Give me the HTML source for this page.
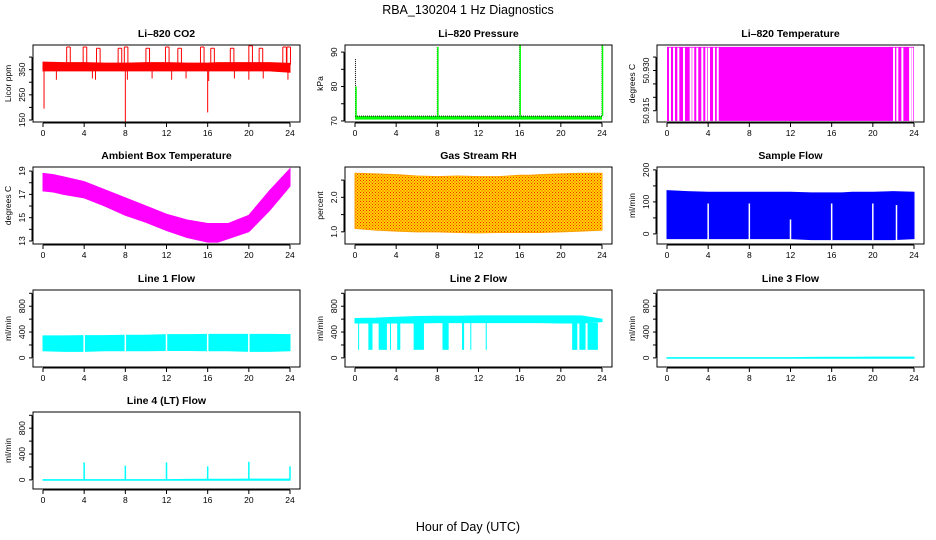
<!DOCTYPE html>
<html><head><meta charset="utf-8"><style>
html,body{margin:0;padding:0;background:#fff}
svg{display:block;font-family:"Liberation Sans",sans-serif}
</style></head><body>
<svg id="chart" width="936" height="540" viewBox="0 0 936 540">
<defs>
<pattern id="rhpat" width="3" height="3" patternUnits="userSpaceOnUse">
<rect width="3" height="3" fill="#ffd700"/><rect x="0" y="0" width="1" height="1" fill="#ff2000"/><rect x="1.5" y="1.5" width="1" height="1" fill="#ff2000"/>
</pattern>
</defs>
<text x="468" y="14" text-anchor="middle" font-size="12.5">RBA_130204  1 Hz Diagnostics</text>
<text x="468" y="531" text-anchor="middle" font-size="12.5">Hour of Day (UTC)</text>
</svg>
<script>
// ---- data ----
const xTicks=[0,4,8,12,16,20,24];
const envHours=[0,2,4,6,8,10,12,14,16,17,18,20,22,24];
// CO2
const co2Upper=[380,378,378,376,376,378,378,376,376,378,378,378,378,375];
const co2Lower=[345,345,345,345,345,345,345,345,345,345,345,345,345,340];
const co2SpikeHours=[2.3,3.9,5.2,7.3,7.9,10.0,11.9,13.1,15.3,16.3,18.2,20.0,21.0,23.3,23.7];
const co2SpikeValues=[440,440,435,435,440,435,440,435,440,435,435,445,435,440,440];
const co2DipHours=[0.1,8.0,16.0,1.3,4.8,5.1,8.2,10.6,12.5,13.9,16.1,18.6,20.0,21.4,23.8];
const co2DipValues=[195,142,180,310,315,310,310,315,310,315,305,315,310,315,310];
// Pressure
const presBaseLow=70.4, presBaseHigh=71.4;
const presSpikeHours=[0.05,8.0,16.0,24.0];
const presSpikeValues=[80,91.5,92,92];
const presBlackValues=[88,91.5,92,92];
// Li-820 temperature
const tempTop=50.9388, tempBottom=50.9112;
const tempGapHours=[0.29,0.68,1.1,1.65,2.3,2.55,2.94,3.43,3.82,4.08,4.57,4.93,22.06,22.38,22.87,23.62,23.84];
// Ambient box temperature
const ambHours=[0,1,2,4,6,8,10,12,14,16,17,18,20,22,24];
const ambUpper=[18.8,18.7,18.5,18.1,17.4,16.7,16.0,15.3,14.8,14.5,14.5,14.5,15.2,17.3,19.2];
const ambLower=[17.3,17.2,17.0,16.7,16.0,15.2,14.6,13.9,13.3,12.9,12.9,13.2,13.8,15.6,17.7];
// Gas stream RH
const rhUpper=[2.7,2.68,2.66,2.62,2.6,2.62,2.6,2.6,2.64,2.64,2.66,2.68,2.7,2.7];
const rhLower=[1.1,1.05,1.02,1.0,1.0,0.98,0.97,0.98,0.98,0.98,0.98,1.0,1.02,1.05];
// Sample flow
const sfUpper=[135,132,130,130,130,130,130,128,128,128,130,130,132,130];
const sfLower=[-15,-15,-15,-15,-15,-15,-15,-18,-18,-18,-18,-18,-18,-15];
const sfGapHours=[4.0,8.0,12.0,16.0,20.0,22.3];
const sfGapTops=[95,95,45,95,95,90];
// Line 1 flow
const l1Upper=[340,340,345,345,350,350,360,360,365,365,365,365,365,360];
const l1Lower=[110,100,100,110,110,110,115,115,110,110,110,100,100,110];
const l1GapHours=[4.0,8.0,12.0,16.0,20.0];
// Line 2 flow
const l2Upper=[610,615,630,640,645,645,650,650,650,650,650,650,650,600];
const l2Lower=[540,540,540,540,545,545,545,545,545,545,545,540,540,560];
const l2DropStarts=[0.3,1.3,2.3,3.4,4.1,5.7,8.5,10.4,11.2,12.7,21.1,21.8,22.6];
const l2DropEnds=[0.4,1.7,3.1,3.5,4.4,6.7,9.1,10.6,11.3,12.8,21.6,22.4,23.6];
const l2DropValue=125;
// Line 3 / Line 4 flow
const l3Upper=[5,5,5,5,5,5,5,8,10,10,10,12,12,12];
const l3Lower=[-5,-5,-5,-5,-5,-5,-5,-5,-5,-5,-5,-5,-5,-5];
const l4SpikeHours=[4.0,8.0,12.0,16.0,20.0,24.0];
const l4SpikeValues=[270,220,270,210,280,210];

// ---- layout ----
const NS='http://www.w3.org/2000/svg';
const svg=document.getElementById('chart');
const cols=[33,345,657], rows=[45,167,290,412], W=267, H=77;
function mk(tag,attrs,parent){const e=document.createElementNS(NS,tag);for(const k in attrs)e.setAttribute(k,attrs[k]);(parent||svg).appendChild(e);return e;}

function panel(c,r,name,title,ylab,d0,d1,yt,yl){
  const L=cols[c],T=rows[r];
  const g=mk('g',{});
  
  
  const sx=h=>L+10+h*247/24;
  const sy=v=>T+(d1-v)/(d1-d0)*H;
  const plot=mk('g',{},g);
  
  
  const t=mk('text',{x:L+W/2,y:T-8,'text-anchor':'middle','font-size':10.5,'font-weight':'bold'},g);
  t.textContent=title;
  
  
  const box=mk('rect',{x:L,y:T,width:W,height:H,fill:'none',stroke:'#000','stroke-width':1},g);
  
  
  const xa=mk('g',{},g);
  
  
  mk('line',{x1:sx(0),x2:sx(24),y1:T+H+1,y2:T+H+1,stroke:'#000'},xa);
  xTicks.forEach(h=>{mk('line',{x1:sx(h),x2:sx(h),y1:T+H+1,y2:T+H+5,stroke:'#000'},xa);
    const tx=mk('text',{x:sx(h),y:T+H+14,'text-anchor':'middle','font-size':8.5},xa);tx.textContent=h;});
  const ya=mk('g',{},g);
  
  
  mk('line',{x1:L-1,x2:L-1,y1:sy(yt[0]),y2:sy(yt[yt.length-1]),stroke:'#000'},ya);
  yt.forEach(v=>mk('line',{x1:L-4,x2:L-1,y1:sy(v),y2:sy(v),stroke:'#000'},ya));
  yl.forEach(v=>{const y=sy(v);const tx=mk('text',{x:L-8,y:y,'text-anchor':'middle','font-size':8.5,transform:`rotate(-90 ${L-8} ${y})`},ya);tx.textContent=(name==='li820-temperature')?v.toFixed(3):(name==='gas-stream-rh'?v.toFixed(1):v);});
  const yc=T+H/2;
  const yt2=mk('text',{x:L-22,y:yc,'text-anchor':'middle','font-size':8.5,transform:`rotate(-90 ${L-22} ${yc})`},g);
  yt2.textContent=ylab;
  
  
  return {sx,sy,plot,T,H};
}
function band(p,hours,up,lo,fill){
  const pts=hours.map((h,i)=>p.sx(h)+','+p.sy(up[i])).concat(hours.map((h,i)=>p.sx(h)+','+p.sy(lo[i])).reverse());
  return mk('polygon',{points:pts.join(' '),fill:fill,stroke:fill,'stroke-width':1},p.plot);
}
function vline(p,h,v0,v1,col,w,extra){const a={x1:p.sx(h),x2:p.sx(h),y1:p.sy(v0),y2:p.sy(v1),stroke:col,'stroke-width':w||1};Object.assign(a,extra||{});return mk('line',a,p.plot);}

let p=panel(0,0,'li820-co2','Li–820 CO2','Licor ppm',142,448,[150,200,250,300,350,400],[150,250,350]);
band(p,envHours,co2Upper,co2Lower,'#ff0000');
co2SpikeHours.forEach((h,i)=>{vline(p,h,370,co2SpikeValues[i],'#ff0000',1);vline(p,h+0.35,370,co2SpikeValues[i],'#ff0000',1);mk('line',{x1:p.sx(h),x2:p.sx(h+0.35),y1:p.sy(co2SpikeValues[i]),y2:p.sy(co2SpikeValues[i]),stroke:'#ff0000'},p.plot);});
co2DipHours.forEach((h,i)=>vline(p,h,345,co2DipValues[i],'#ff0000',1));

p=panel(1,0,'li820-pressure','Li–820 Pressure','kPa',69.7,92.06,[70,75,80,85,90],[70,80,90]);
mk('rect',{x:p.sx(0),y:p.sy(presBaseHigh),width:p.sx(24)-p.sx(0),height:p.sy(presBaseLow)-p.sy(presBaseHigh),fill:'#00ff00'},p.plot);
mk('line',{x1:p.sx(0),x2:p.sx(24),y1:p.sy(presBaseHigh),y2:p.sy(presBaseHigh),stroke:'#000','stroke-dasharray':'1,1'},p.plot);
presSpikeHours.forEach((h,i)=>{vline(p,h,presBaseHigh,presBlackValues[i],'#000',1,{'stroke-dasharray':'1,1'});vline(p,h+0.05,presBaseHigh,presSpikeValues[i],'#00ff00',1.5);});

p=panel(2,0,'li820-temperature','Li–820 Temperature','degrees C',50.9108,50.9395,[50.915,50.92,50.925,50.93,50.935],[50.915,50.930]);
mk('rect',{x:p.sx(0),y:p.sy(tempTop),width:p.sx(24)-p.sx(0),height:p.sy(tempBottom)-p.sy(tempTop),fill:'#ff00ff'},p.plot);
tempGapHours.forEach(h=>vline(p,h,tempTop-0.0003,tempBottom,'#ffffff',2));

p=panel(0,1,'ambient-box-temperature','Ambient Box Temperature','degrees C',12.74,19.35,[13,14,15,16,17,18,19],[13,15,17,19]);
band(p,ambHours,ambUpper,ambLower,'#ff00ff');

p=panel(1,1,'gas-stream-rh','Gas Stream RH','percent',0.647,2.88,[1.0,1.5,2.0,2.5],[1.0,2.0]);
band(p,envHours,rhUpper,rhLower,'url(#rhpat)').setAttribute('stroke','#ffa000');

p=panel(2,1,'sample-flow','Sample Flow','ml/min',-31.6,209,[0,50,100,150,200],[0,100,200]);
band(p,envHours,sfUpper,sfLower,'#0000ff');
sfGapHours.forEach((h,i)=>vline(p,h,sfGapTops[i],-20,'#ffffff',1.5));

const lt=[0,200,400,600,800,1000], ll=[0,400,800];
p=panel(0,2,'line1-flow','Line 1 Flow','ml/min',-141,1051,lt,ll);
band(p,envHours,l1Upper,l1Lower,'#00ffff');
l1GapHours.forEach(h=>vline(p,h,380,90,'#ffffff',1.5));

p=panel(1,2,'line2-flow','Line 2 Flow','ml/min',-141,1051,lt,ll);
band(p,envHours,l2Upper,l2Lower,'#00ffff');
l2DropStarts.forEach((s,i)=>mk('rect',{x:p.sx(s),y:p.sy(545),width:Math.max(1,p.sx(l2DropEnds[i])-p.sx(s)),height:p.sy(l2DropValue)-p.sy(545),fill:'#00ffff'},p.plot));

p=panel(2,2,'line3-flow','Line 3 Flow','ml/min',-141,1051,lt,ll);
band(p,envHours,l3Upper,l3Lower,'#00ffff');

p=panel(0,3,'line4-flow','Line 4 (LT) Flow','ml/min',-141,1051,lt,ll);
band(p,envHours,l3Upper,l3Lower,'#00ffff');
l4SpikeHours.forEach((h,i)=>vline(p,h,0,l4SpikeValues[i],'#00ffff',1.5));
</script>
</body></html>
